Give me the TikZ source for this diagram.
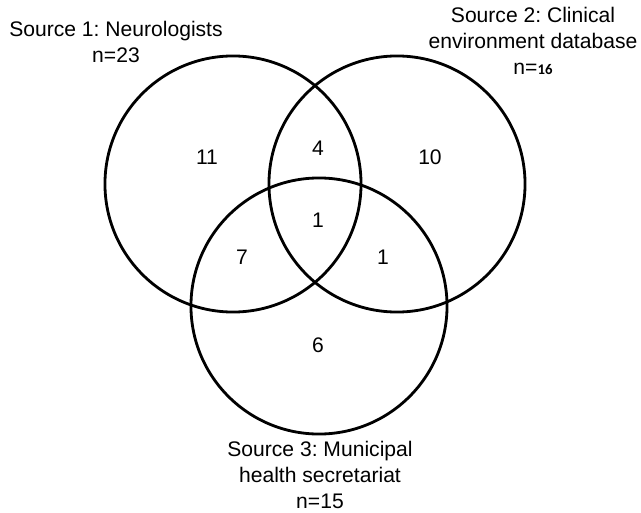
\documentclass[tikz,border=0pt]{standalone}
\usepackage{fontspec}
\setmainfont{Liberation Sans}
\newfontfamily\countfont{Carlito}
\usepackage{tikz}
\frenchspacing

\begin{document}
\begin{tikzpicture}[x=0.025cm,y=-0.025cm,
    venn/.style={circle,draw=black,line width=2pt,minimum size=6.4cm,inner sep=0pt},
    label/.style={font=\fontsize{15}{18.5}\selectfont,align=center},
    count/.style={font=\fontsize{15}{18}\selectfont}]
        \useasboundingbox (0,0) rectangle (641,513);

        % Draw the three sources
        \node[venn] (neuro) at (233,184) {};
        \node[venn] (clinic) at (397,184) {};
        \node[venn] (munic) at (319,306) {};

        % Source labels
        \node[label] (neurolab) at (116,42) {Source 1: Neurologists\\n=23};
        \node[label] (cliniclab) at (533,41) {Source 2: Clinical\\environment database\\n={\countfont\bfseries\fontsize{10.5}{12}\selectfont 16}};
        \node[label] (municlab) at (320,475) {Source 3: Municipal\\health secretariat\\n=15};

        % Counts in each region
        \node[count] (onlyneuro) at (207,157) {11};
        \node[count] (neuroclinic) at (318,148) {4};
        \node[count] (onlyclinic) at (430,157) {10};
        \node[count] (allthree) at (318,220) {1};
        \node[count] (neuromunic) at (242,257) {7};
        \node[count] (clinicmunic) at (383,257) {1};
        \node[count] (onlymunic) at (318,345) {6};
    \end{tikzpicture}
\end{document}
